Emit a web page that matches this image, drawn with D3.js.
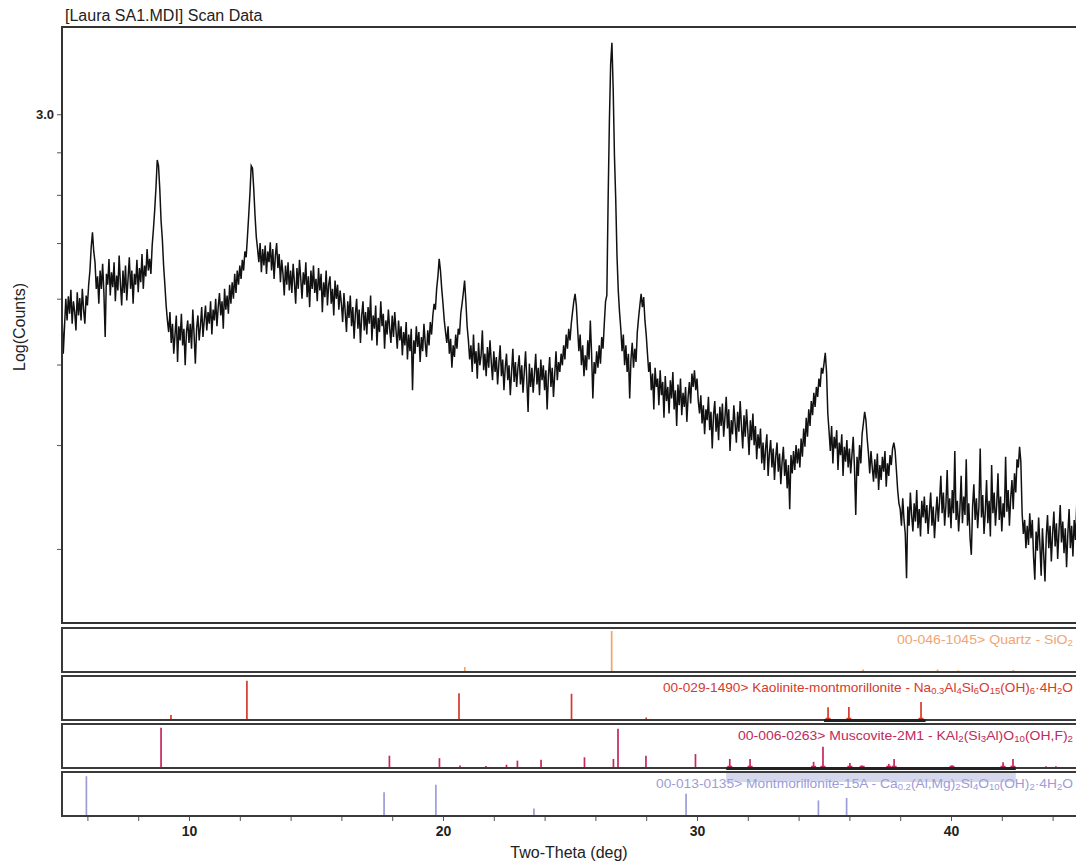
<!DOCTYPE html>
<html>
<head>
<meta charset="utf-8">
<script src="https://cdn.jsdelivr.net/npm/d3@7/dist/d3.min.js"></script>
<style>
  html, body { margin: 0; padding: 0; background: #fff; }
  svg { display: block; font-family: "Liberation Sans", Arial, sans-serif; }
</style>
</head>
<body>
<svg id="chart" width="1076" height="861"></svg>
<script>
// ---- Scan data: Log(Counts), 2θ from 5.00° in 0.05° steps ----
const scanStart = 5.0;
const scanStep = 0.05;
const scanLog = [
  2.760,2.712,2.745,2.778,2.752,2.781,2.760,2.789,2.748,2.775,2.762,2.740,2.786,2.758,2.779,2.752,2.790,2.765,2.748,2.782,
  2.770,2.795,2.812,2.840,2.858,2.835,2.822,2.790,2.805,2.772,2.812,2.790,2.820,2.785,2.732,2.808,2.795,2.826,2.782,2.810,
  2.792,2.822,2.775,2.806,2.788,2.830,2.796,2.770,2.812,2.785,2.818,2.776,2.802,2.828,2.790,2.812,2.772,2.808,2.795,2.825,
  2.786,2.815,2.798,2.832,2.790,2.818,2.805,2.838,2.812,2.826,2.808,2.842,2.862,2.885,2.912,2.945,2.938,2.910,2.872,2.850,
  2.818,2.795,2.770,2.752,2.738,2.762,2.725,2.748,2.712,2.735,2.758,2.702,2.745,2.728,2.760,2.722,2.742,2.698,2.738,2.752,
  2.725,2.748,2.718,2.765,2.735,2.700,2.742,2.758,2.728,2.745,2.768,2.732,2.752,2.770,2.740,2.762,2.748,2.775,2.735,2.765,
  2.752,2.778,2.745,2.768,2.785,2.758,2.775,2.742,2.790,2.765,2.782,2.760,2.795,2.772,2.798,2.778,2.808,2.785,2.812,2.795,
  2.818,2.802,2.825,2.812,2.835,2.828,2.852,2.878,2.905,2.938,2.935,2.910,2.878,2.852,2.838,2.822,2.845,2.810,2.838,2.818,
  2.842,2.808,2.835,2.822,2.846,2.812,2.838,2.802,2.830,2.845,2.815,2.832,2.798,2.825,2.808,2.782,2.818,2.795,2.822,2.788,
  2.812,2.785,2.820,2.798,2.772,2.815,2.790,2.825,2.802,2.778,2.810,2.795,2.822,2.780,2.805,2.768,2.812,2.790,2.818,2.785,
  2.802,2.775,2.815,2.788,2.808,2.762,2.798,2.780,2.812,2.770,2.795,2.805,2.772,2.790,2.758,2.800,2.778,2.795,2.765,2.788,
  2.772,2.750,2.785,2.762,2.738,2.775,2.755,2.782,2.745,2.768,2.730,2.760,2.778,2.742,2.765,2.725,2.758,2.775,2.740,2.762,
  2.735,2.768,2.748,2.782,2.728,2.758,2.742,2.770,2.722,2.755,2.738,2.775,2.745,2.760,2.718,2.752,2.735,2.765,2.742,2.725,
  2.758,2.732,2.762,2.740,2.718,2.752,2.728,2.745,2.710,2.738,2.722,2.750,2.705,2.735,2.715,2.742,2.668,2.728,2.712,2.745,
  2.720,2.738,2.702,2.732,2.715,2.748,2.725,2.708,2.740,2.722,2.750,2.735,2.758,2.772,2.765,2.790,2.805,2.826,2.812,2.790,
  2.772,2.752,2.738,2.725,2.745,2.712,2.730,2.695,2.722,2.708,2.735,2.718,2.742,2.735,2.760,2.772,2.785,2.800,2.775,2.745,
  2.728,2.705,2.722,2.690,2.735,2.700,2.715,2.682,2.725,2.698,2.710,2.740,2.692,2.712,2.685,2.720,2.695,2.728,2.702,2.680,
  2.715,2.690,2.708,2.675,2.700,2.722,2.685,2.705,2.668,2.695,2.712,2.680,2.698,2.662,2.690,2.718,2.678,2.702,2.672,2.695,
  2.710,2.675,2.698,2.665,2.690,2.715,2.680,2.642,2.700,2.672,2.695,2.665,2.688,2.712,2.675,2.695,2.662,2.705,2.680,2.698,
  2.668,2.692,2.645,2.685,2.708,2.672,2.695,2.660,2.688,2.715,2.680,2.702,2.690,2.712,2.698,2.722,2.705,2.735,2.718,2.742,
  2.728,2.748,2.762,2.775,2.784,2.770,2.742,2.715,2.735,2.698,2.722,2.685,2.710,2.692,2.728,2.705,2.752,2.712,2.658,2.702,
  2.688,2.715,2.695,2.722,2.700,2.732,2.718,2.748,2.775,2.782,2.895,2.990,3.060,3.086,3.030,2.950,2.898,2.830,2.788,2.762,
  2.742,2.715,2.735,2.698,2.722,2.690,2.712,2.658,2.705,2.725,2.695,2.718,2.702,2.738,2.755,2.770,2.784,2.768,2.780,2.752,
  2.735,2.712,2.690,2.702,2.668,2.688,2.645,2.695,2.672,2.682,2.650,2.692,2.662,2.678,2.635,2.685,2.655,2.672,2.640,2.680,
  2.658,2.690,2.645,2.668,2.625,2.675,2.650,2.682,2.638,2.665,2.648,2.672,2.630,2.660,2.678,2.652,2.688,2.672,2.692,2.668,
  2.682,2.655,2.640,2.662,2.628,2.650,2.615,2.645,2.632,2.660,2.620,2.642,2.598,2.638,2.655,2.618,2.640,2.608,2.648,2.625,
  2.652,2.612,2.635,2.660,2.622,2.645,2.595,2.632,2.615,2.650,2.628,2.605,2.642,2.618,2.655,2.625,2.598,2.638,2.612,2.645,
  2.620,2.590,2.632,2.608,2.640,2.602,2.625,2.585,2.615,2.598,2.622,2.580,2.605,2.572,2.598,2.615,2.565,2.592,2.608,2.575,
  2.598,2.560,2.588,2.605,2.570,2.592,2.555,2.582,2.600,2.565,2.585,2.550,2.578,2.525,2.590,2.568,2.595,2.572,2.602,2.580,
  2.598,2.575,2.610,2.588,2.622,2.600,2.635,2.612,2.645,2.625,2.655,2.638,2.665,2.648,2.672,2.660,2.682,2.672,2.695,2.688,
  2.700,2.713,2.690,2.640,2.618,2.595,2.625,2.580,2.612,2.598,2.620,2.572,2.605,2.590,2.615,2.565,2.600,2.582,2.608,2.575,
  2.598,2.568,2.590,2.612,2.575,2.518,2.588,2.565,2.602,2.580,2.615,2.628,2.642,2.632,2.610,2.592,2.568,2.595,2.575,2.558,
  2.585,2.562,2.592,2.548,2.578,2.560,2.588,2.570,2.595,2.552,2.580,2.565,2.590,2.578,2.598,2.605,2.595,2.572,2.548,2.532,
  2.525,2.505,2.538,2.512,2.495,2.442,2.528,2.505,2.545,2.518,2.498,2.532,2.510,2.548,2.502,2.525,2.492,2.535,2.515,2.540,
  2.508,2.530,2.495,2.522,2.545,2.505,2.528,2.490,2.518,2.540,2.510,2.535,2.565,2.520,2.545,2.505,2.530,2.572,2.515,2.538,
  2.502,2.548,2.520,2.595,2.512,2.535,2.498,2.525,2.565,2.508,2.540,2.518,2.585,2.505,2.532,2.490,2.470,2.528,2.555,2.512,
  2.538,2.502,2.528,2.598,2.515,2.542,2.495,2.522,2.560,2.508,2.535,2.492,2.578,2.520,2.545,2.505,2.530,2.568,2.512,2.540,
  2.498,2.532,2.515,2.588,2.522,2.548,2.505,2.538,2.560,2.525,2.568,2.545,2.585,2.575,2.600,2.582,2.520,2.495,2.512,2.478,
  2.505,2.482,2.520,2.490,2.512,2.468,2.440,2.498,2.475,2.515,2.482,2.445,2.502,2.470,2.438,2.492,2.518,2.478,2.505,2.462,
  2.495,2.522,2.480,2.508,2.465,2.498,2.530,2.485,2.510,2.472,2.502,2.455,2.495,2.525,2.478,2.505,2.468,2.512,2.488,2.530,
  2.495
];

// ---- Reference patterns: 2θ positions and relative intensities (%) ----
const quartzPos = [20.86, 26.64, 36.54, 39.47, 40.29, 42.45];
const quartzInt = [12, 100, 6, 6, 4, 5];

const kaolMontPos = [9.29, 12.28, 20.63, 25.06, 28.00, 35.16, 35.98, 38.82];
const kaolMontInt = [12, 96, 65, 64, 6, 31, 32, 44];

const muscovitePos = [8.90, 17.89, 19.86, 20.67, 21.69, 22.50, 22.93, 23.86, 25.57, 26.71, 26.89, 27.99,
                      29.94, 31.29, 32.09, 34.59, 34.96, 36.02, 36.50, 37.55, 37.76, 40.04, 42.05, 42.44, 43.74, 44.13];
const muscoviteInt = [98, 30, 24, 6, 5, 8, 18, 20, 26, 22, 96, 30,
                      34, 22, 22, 15, 52, 12, 6, 10, 22, 7, 14, 22, 4, 4];

const montPos = [5.96, 17.68, 19.72, 23.58, 29.57, 34.78, 35.89];
const montInt = [97, 58, 76, 18, 54, 38, 44];

// Highlighted 2θ ranges on the kaolinite-montmorillonite and muscovite cards
const kaolMontSel = [35.0, 39.0];
const muscoviteSel = [31.15, 42.55];

const countTicks = [300, 400, 500, 600, 700, 800, 900, 1000];
const xTickValues = [6, 8, 10, 12, 14, 16, 18, 20, 22, 24, 26, 28, 30, 32, 34, 36, 38, 40, 42, 44];

const phases = [
  { pos: quartzPos, inten: quartzInt, color: "#f0a468", labelColor: "#f2a472", sel: null,
    label: [["00-046-1045> Quartz - SiO", 0], ["2", 1]], lx: 897, lEnd: 1073 },
  { pos: kaolMontPos, inten: kaolMontInt, color: "#d63a2c", labelColor: "#d63a2c", sel: kaolMontSel,
    label: [["00-029-1490> Kaolinite-montmorillonite - Na", 0], ["0.3", 1], ["Al", 0], ["4", 1], ["Si", 0], ["6", 1],
            ["O", 0], ["15", 1], ["(OH)", 0], ["6", 1], ["·4H", 0], ["2", 1], ["O", 0]], lx: 663, lEnd: 1073 },
  { pos: muscovitePos, inten: muscoviteInt, color: "#c4285c", labelColor: "#c02a5c", sel: muscoviteSel,
    label: [["00-006-0263> Muscovite-2M1 - KAl", 0], ["2", 1], ["(Si", 0], ["3", 1], ["Al)O", 0], ["10", 1],
            ["(OH,F)", 0], ["2", 1]], lx: 738, lEnd: 1073 },
  { pos: montPos, inten: montInt, color: "#9c9cd8", labelColor: "#9c9cd8", sel: null,
    label: [["00-013-0135> Montmorillonite-15A - Ca", 0], ["0.2", 1], ["(Al,Mg)", 0], ["2", 1], ["Si", 0], ["4", 1],
            ["O", 0], ["10", 1], ["(OH)", 0], ["2", 1], ["·4H", 0], ["2", 1], ["O", 0]], lx: 656, lEnd: 1073 }
];

// ---- Layout ----
const svg = d3.select("#chart");
const left = 62;
const mainTop = 27, mainBottom = 623;
const panelTops = [628, 676, 724, 772];
const panelH = 44;
const axisY = panelTops[3] + panelH;

const x = d3.scaleLinear().domain([5, 45]).range([left, 1078]);
const y = d3.scaleLinear().domain([2.388, 3.105]).range([mainBottom, mainTop]);

svg.append("defs").append("clipPath").attr("id", "mainClip")
  .append("rect").attr("x", left).attr("y", mainTop).attr("width", 1080 - left).attr("height", mainBottom - mainTop);

// Title
svg.append("text").attr("x", 65).attr("y", 21).attr("font-size", 16).attr("fill", "#222")
  .text("[Laura SA1.MDI] Scan Data");

// Scan trace
const scanPts = scanLog.map((v, i) => [scanStart + i * scanStep, v]);
svg.append("path")
  .datum(scanPts)
  .attr("clip-path", "url(#mainClip)")
  .attr("fill", "none")
  .attr("stroke", "#111")
  .attr("stroke-width", 1.5)
  .attr("stroke-linejoin", "miter")
  .attr("d", d3.line().x(d => x(d[0])).y(d => y(d[1])));

// Main frame
svg.append("rect").attr("x", left).attr("y", mainTop).attr("width", 1090 - left).attr("height", mainBottom - mainTop)
  .attr("fill", "none").attr("stroke", "#333").attr("stroke-width", 2);

// Y axis (Log(Counts))
const yAxis = d3.axisLeft(y)
  .tickValues(countTicks.map(c => Math.log10(c)))
  .tickSize(4)
  .tickPadding(3)
  .tickFormat(v => Math.abs(v - 3) < 1e-9 ? "3.0" : "");
const gy = svg.append("g").attr("transform", `translate(${left - 1},0)`).call(yAxis);
gy.select(".domain").remove();
gy.selectAll(".tick line").attr("stroke", "#555");
gy.selectAll(".tick text").attr("font-size", 13).attr("font-weight", "bold").attr("fill", "#222")
  .attr("font-family", "'Liberation Sans', Arial, sans-serif");

svg.append("text")
  .attr("transform", `translate(25,${(mainTop + mainBottom) / 2 + 2}) rotate(-90)`)
  .attr("text-anchor", "middle").attr("font-size", 16).attr("fill", "#222")
  .text("Log(Counts)");

// Reference pattern cards
phases.forEach((p, k) => {
  const top = panelTops[k];
  const bot = top + panelH;
  const g = svg.append("g");

  if (k === 3) {
    // shaded band carried over from the muscovite selection
    g.append("rect").attr("x", x(muscoviteSel[0])).attr("y", top + 1)
      .attr("width", x(muscoviteSel[1]) - x(muscoviteSel[0])).attr("height", 9)
      .attr("fill", "#d5d7ec");
  }

  g.selectAll("line.stick").data(p.pos.map((d, i) => ({ pos: d, inten: p.inten[i] })))
    .join("line").attr("class", "stick")
    .attr("x1", d => x(d.pos)).attr("x2", d => x(d.pos))
    .attr("y1", bot).attr("y2", d => bot - d.inten / 100 * (panelH - 3))
    .attr("stroke", p.color).attr("stroke-width", 1.7);

  if (p.sel) {
    const inSel = p.pos.map((d, i) => ({ pos: d, inten: p.inten[i] }))
      .filter(d => d.pos >= p.sel[0] && d.pos <= p.sel[1]);
    g.selectAll("line.cap").data(inSel).join("line").attr("class", "cap")
      .attr("x1", d => x(d.pos) - 2.5).attr("x2", d => x(d.pos) + 2.5)
      .attr("y1", bot - 1.5).attr("y2", bot - 1.5)
      .attr("stroke", p.color).attr("stroke-width", 1.5);
  }

  g.append("rect").attr("x", left).attr("y", top).attr("width", 1090 - left).attr("height", panelH)
    .attr("fill", "none").attr("stroke", "#3a3a3a").attr("stroke-width", 2);

  if (p.sel) {
    g.append("line").attr("x1", x(p.sel[0])).attr("x2", x(p.sel[1]))
      .attr("y1", bot + 0.5).attr("y2", bot + 0.5).attr("stroke", "#222").attr("stroke-width", 3);
  }

  const t = g.append("text").attr("x", p.lx).attr("y", top + 16)
    .attr("font-size", 13).attr("fill", p.labelColor)
    .attr("textLength", p.lEnd - p.lx).attr("lengthAdjust", "spacingAndGlyphs");
  p.label.forEach(([s, sub]) => {
    t.append("tspan").text(s)
      .attr("font-size", sub ? 9 : 13)
      .attr("baseline-shift", sub ? "-25%" : null);
  });
});

// X axis (Two-Theta)
const xAxis = d3.axisBottom(x)
  .tickValues(xTickValues)
  .tickSize(4)
  .tickPadding(5)
  .tickFormat(v => v % 10 === 0 ? String(v) : "");
const gx = svg.append("g").attr("transform", `translate(0,${axisY + 1})`).call(xAxis);
gx.select(".domain").remove();
gx.selectAll(".tick line").attr("stroke", "#555");
gx.selectAll(".tick text").attr("font-size", 14).attr("font-weight", "bold").attr("fill", "#222")
  .attr("font-family", "'Liberation Sans', Arial, sans-serif");

svg.append("text").attr("x", 569).attr("y", 858).attr("text-anchor", "middle")
  .attr("font-size", 16).attr("fill", "#222").text("Two-Theta (deg)");
</script>
</body>
</html>
